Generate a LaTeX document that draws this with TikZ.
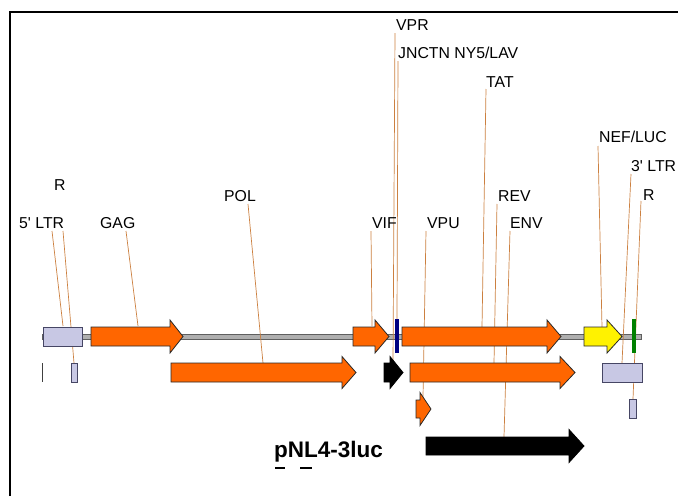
\documentclass[tikz,border=0pt]{standalone}
\usepackage{fontspec}
\setmainfont{Liberation Sans}
\definecolor{leadclr}{RGB}{204,128,64}
\definecolor{orfclr}{RGB}{255,102,0}
\definecolor{edgeclr}{RGB}{40,40,40}
\definecolor{ltrclr}{RGB}{200,200,228}
\definecolor{ltredge}{RGB}{70,70,100}
\definecolor{junctclr}{RGB}{0,0,128}
\definecolor{rclr}{RGB}{0,128,0}
\definecolor{bbfill}{RGB}{175,175,175}
\definecolor{bbedge}{RGB}{95,95,95}
\begin{document}
\begin{tikzpicture}[x=1pt,y=-1pt,
  lbl/.style={anchor=base west,inner sep=0pt,font=\fontsize{15.8}{17}\selectfont},
  leader/.style={draw=leadclr,line width=0.7pt},
  orf/.style={fill=orfclr,draw=edgeclr,line width=0.8pt,line join=miter},
  blackorf/.style={fill=black,draw=black,line width=0.8pt},
  lucorf/.style={fill=yellow,draw=edgeclr,line width=0.8pt},
  ltrbox/.style={fill=ltrclr,draw=ltredge,line width=0.7pt}]
% page and frame
\useasboundingbox (0,0) rectangle (678,496);
\fill[white] (0,0) rectangle (678,496);
\draw[line width=2pt] (10,496) -- (10,12) -- (678,12);
% gene arrow: #1 style, #2 start x, #3 head base x, #4 tip x, #5 centre y, #6 half body, #7 half head
\newcommand{\genearrow}[7]{\filldraw[#1] (#2,{#5-#6}) -- (#3,{#5-#6}) -- (#3,{#5-#7}) -- (#4,#5) -- (#3,{#5+#7}) -- (#3,{#5+#6}) -- (#2,{#5+#6}) -- cycle;}
% backbone
\filldraw[fill=bbfill,draw=bbedge,line width=1pt] (42,334) rectangle (641,339.5);
% leader lines
\draw[leader] (52,231) -- (63,326);
\draw[leader] (63,231) -- (74,363);
\draw[leader] (126,231) -- (138,326);
\draw[leader] (248,204) -- (263,363);
\draw[leader] (371,231) -- (372,326);
\draw[leader] (395,33) -- (393,363);
\draw[leader] (398,61) -- (397,319);
\draw[leader] (486,89) -- (482,327);
\draw[leader] (426,231) -- (423,397);
\draw[leader] (497,204) -- (494,363);
\draw[leader] (510,231) -- (504,437);
\draw[leader] (598,146) -- (602,327);
\draw[leader] (631,174) -- (622,363);
\draw[leader] (641,201) -- (633,399);
% 5' LTR
\filldraw[ltrbox] (43,327) rectangle (82,346);
\fill[black!75] (41.5,363) rectangle (43,382);
\filldraw[ltrbox] (71,363) rectangle (77,382);
% row 1
\genearrow{orf}{91}{170}{183}{336.5}{9.5}{16.5}
\genearrow{orf}{353}{375}{389}{336.5}{9.5}{16.5}
\fill[junctclr] (395,319) rectangle (399,353);
\genearrow{orf}{402}{547}{561}{336.5}{9.5}{16.5}
\genearrow{lucorf}{584}{607}{622}{336.5}{9.5}{16.5}
\fill[rclr] (632,319) rectangle (635.5,353);
% row 2
\genearrow{orf}{171}{342}{356}{372.5}{9.5}{16}
\genearrow{blackorf}{384}{390}{403}{372.5}{9.5}{16}
\genearrow{orf}{410}{560}{575}{372.5}{9.5}{16}
\filldraw[ltrbox] (602,363) rectangle (642,382);
% rows 3 and 4
\genearrow{orf}{416}{420}{431}{409}{9}{16.5}
\filldraw[ltrbox] (629,399) rectangle (636,418);
\genearrow{blackorf}{426}{569}{584}{446}{9}{16.5}
% labels
\node[lbl] (rleft) at (54,190) {R};
\node[lbl] (ltr5) at (19,228.5) {5\textquotesingle\ LTR};
\node[lbl] (gag) at (100,228.5) {GAG};
\node[lbl] (pol) at (224,201.5) {POL};
\node[lbl] (vif) at (372,228.5) {VIF};
\node[lbl] (vpr) at (396,30.5) {VPR};
\node[lbl] (jnctn) at (398,58.5) {JNCTN NY5/LAV};
\node[lbl] (tat) at (486,87.5) {TAT};
\node[lbl] (vpu) at (427,228.5) {VPU};
\node[lbl] (rev) at (498,201.5) {REV};
\node[lbl] (env) at (510,228.5) {ENV};
\node[lbl] (nef) at (599,142.5) {NEF/LUC};
\node[lbl] (ltr3) at (631,171.5) {3\textquotesingle\ LTR};
\node[lbl] (rright) at (643,200.5) {R};
\node[anchor=base west,inner sep=0pt,font=\fontsize{22.5}{24}\selectfont\bfseries] (title) at (274,457) {pNL4-3luc};
% clipped tops of the line below the title
\fill[black] (275,466.5) rectangle (285,469);
\fill[black] (300,466.5) rectangle (312,469);
\end{tikzpicture}
\end{document}
